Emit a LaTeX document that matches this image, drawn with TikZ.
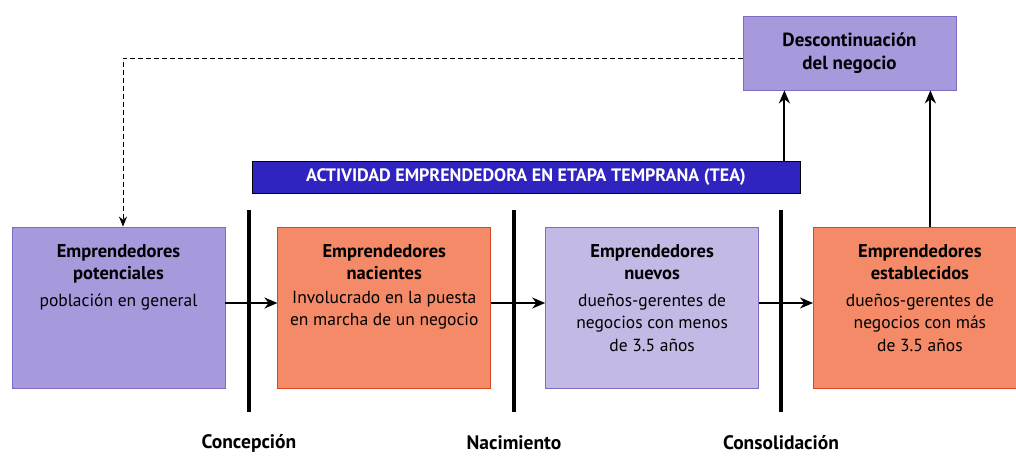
\documentclass[tikz,border=0pt]{standalone}
\usepackage{fontspec}
\setmainfont{PT Sans}
\usetikzlibrary{arrows.meta,positioning}
\definecolor{lila}{HTML}{A898DC}
\definecolor{lilaclaro}{HTML}{C4B8E4}
\definecolor{lilaborde}{HTML}{7E6CC4}
\definecolor{salmon}{HTML}{F58A68}
\definecolor{salmonborde}{HTML}{D9461E}
\definecolor{azultea}{HTML}{3024C0}
\newcommand\tit[1]{{\bfseries\fontsize{18.5}{23}\selectfont #1}}

\begin{document}
\begin{tikzpicture}[x=1pt, y=-1pt, node distance= 53pt,
    etapa/.style={draw, thick, minimum width=213pt, minimum height=161pt, inner sep=0pt},
    texto/.style={anchor=north, align=center, font=\fontsize{17.5}{22.5}\selectfont, yshift=-14pt},
    hito/.style={inner sep=0pt, font=\bfseries\fontsize{19.5}{20}\selectfont},
    flecha/.style={-{Stealth[length=13pt,width=11pt]}, line width=2pt},
    barra/.style={line width=4pt}]
      \path[use as bounding box, clip] (0,0) rectangle (1016,456);
      % etapas
      \node (pot) [etapa, fill=lila, draw=lilaborde] at (118.5,307.5) {};
      \node (nac) [etapa, fill=salmon, draw=salmonborde, right= 52pt of pot] {};
      \node (nue) [etapa, fill=lilaclaro, draw=lilaborde, right= 54pt of nac] {};
      \node (est) [etapa, fill=salmon, draw=salmonborde, right= 54pt of nue] {};
      \begin{scope}[every node/.style={texto}]
        \node (pot txt) at (pot.north) {\tit{Emprendedores}\\\tit{potenciales}\\[4pt]población en general};
        \node (nac txt) at (nac.north) {\tit{Emprendedores}\\\tit{nacientes}\\[1pt]Involucrado en la puesta\\en marcha de un negocio};
        \node (nue txt) at (nue.north) {\tit{Emprendedores}\\\tit{nuevos}\\[4pt]dueños-gerentes de\\negocios con menos\\de 3.5 años};
        \node (est txt) at (est.north) {\tit{Emprendedores}\\\tit{establecidos}\\[4pt]dueños-gerentes de\\negocios con más\\de 3.5 años};
      \end{scope}
      \node (tea) [fill=azultea, draw=black, thick, minimum width=548pt, minimum height=32pt, text=white,
        font=\bfseries\fontsize{18}{18}\selectfont] at (526,177) {ACTIVIDAD EMPRENDEDORA EN ETAPA TEMPRANA (TEA)};
      \node (desc) [etapa, fill=lila, draw=lilaborde, minimum height=74pt, align=center,
        font=\bfseries\fontsize{19}{23}\selectfont] at (849.5,53) {Descontinuación\\del negocio};
      % hitos
      \foreach \x/\nombre/\etiqueta in {249/concep/Concepción, 514/nacim/Nacimiento, 781/consol/Consolidación}{
        \draw[barra] (\x,210) -- (\x,412);
        \node (\nombre) [hito] at (\x,443) {\etiqueta};
      }
      % flechas
      \draw[flecha] ([yshift=4.5pt]pot.east) -- ([yshift=4.5pt]nac.west);
      \draw[flecha] ([yshift=4.5pt]nac.east) -- ([yshift=4.5pt]nue.west);
      \draw[flecha] ([yshift=4.5pt]nue.east) -- ([yshift=4.5pt]est.west);
      \draw[flecha] ([xshift=-16pt]tea.north east) -- ([xshift=-16pt]tea.north east |- desc.south);
      \draw[flecha] ([xshift=10.5pt]est.north) -- ([xshift=10.5pt]est.north |- desc.south);
      \draw[dashed, thick, dash pattern=on 5pt off 3pt, -{Stealth[length=10pt,width=8pt]}]
        ([yshift=-5pt]desc.west) -| ([xshift=4.5pt]pot.north);
    \end{tikzpicture}
\end{document}
